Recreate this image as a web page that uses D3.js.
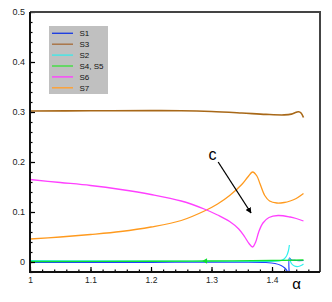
<!DOCTYPE html>
<html>
<head>
<meta charset="utf-8">
<script src="https://cdn.jsdelivr.net/npm/d3@7.9.0/dist/d3.min.js"></script>
<style>
  body { margin: 0; background: #fff; }
  svg { display: block; font-family: "Liberation Sans", Arial, sans-serif; }
</style>
</head>
<body>
<svg id="chart" width="332" height="302"></svg>
<script>
// series values: [alpha, value]; null splits a curve at a jump
const s1 = [[1.0, -0.001], [1.2, -0.0006], [1.35, -0.0002], [1.39, -0.001], [1.405, -0.003], [1.415, -0.007],
  [1.421, -0.012], [1.425, -0.018], [1.4285, -0.03], null,
  [1.4288, -0.03], [1.4288, 0.008], [1.432, 0.004], [1.44, 0.003], [1.452, 0.003]];
const s3 = [[1.0, 0.302], [1.1, 0.3025], [1.2, 0.3027], [1.25, 0.3025], [1.3, 0.301], [1.35, 0.298],
  [1.39, 0.2952], [1.42, 0.2942], [1.432, 0.2958], [1.44, 0.2995], [1.444, 0.3006], [1.448, 0.298], [1.452, 0.289]];
const s2 = [[1.0, 0.003], [1.1, 0.0022], [1.3, 0.0015], [1.38, 0.001], [1.405, 0.0015], [1.415, 0.003],
  [1.42, 0.006], [1.424, 0.012], [1.427, 0.022], [1.4287, 0.034], null,
  [1.4292, 0.008], [1.432, -0.003], [1.437, -0.008], [1.443, -0.009], [1.448, -0.007], [1.452, -0.004]];
const s45 = [[1.0, 0.001], [1.2, 0.0015], [1.3, 0.002], [1.4, 0.003], [1.452, 0.004]];
const s6 = [[1.0, 0.165], [1.05, 0.159], [1.1, 0.153], [1.15, 0.145], [1.2, 0.135], [1.25, 0.122],
  [1.29, 0.105], [1.31, 0.094], [1.33, 0.081], [1.345, 0.066], [1.355, 0.05], [1.362, 0.037],
  [1.368, 0.03], [1.373, 0.04], [1.378, 0.06], [1.385, 0.078], [1.395, 0.089], [1.41, 0.093],
  [1.43, 0.09], [1.44, 0.087], [1.452, 0.082]];
const s7 = [[1.0, 0.046], [1.05, 0.05], [1.1, 0.055], [1.15, 0.061], [1.2, 0.07], [1.25, 0.083],
  [1.29, 0.103], [1.31, 0.116], [1.33, 0.133], [1.35, 0.155], [1.36, 0.17], [1.368, 0.18],
  [1.375, 0.172], [1.38, 0.157], [1.388, 0.133], [1.396, 0.122], [1.408, 0.118], [1.42, 0.119],
  [1.43, 0.122], [1.44, 0.127], [1.452, 0.137]];

const series = [
  { name: 'S3', data: s3, color: '#a86818', width: 1.6 },
  { name: 'S7', data: s7, color: '#ff9a1e', width: 1.3 },
  { name: 'S6', data: s6, color: '#ff40ff', width: 1.3 },
  { name: 'S1', data: s1, color: '#2040ff', width: 1.2 },
  { name: 'S2', data: s2, color: '#30f0f0', width: 1.2 },
  { name: 'S4, S5', data: s45, color: '#10e030', width: 1.4 },
];

const legendNames = ['S1', 'S3', 'S2', 'S4, S5', 'S6', 'S7'];
const legendColors = ['#2040e0', '#a87040', '#40e8e8', '#40e040', '#ff40ff', '#ffa030'];

const xTicks = [1, 1.1, 1.2, 1.3, 1.4];
const yTicks = [0, 0.1, 0.2, 0.3, 0.4, 0.5];
const xMinor = d3.range(1, 1.47, 0.02);
const yMinor = d3.range(-0.02, 0.501, 0.02);
const arrowMarkAlpha = 1.29; // little arrowhead on the green curve
const annot = { text: 'c', at: [1.3017, 0.204], from: [1.311, 0.2], to: [1.3653, 0.098] };

const width = 332, height = 302;
const margin = { top: 12, right: 12, bottom: 30, left: 30 };

const svg = d3.select('#chart');

const x = d3.scaleLinear().domain([1, 1.4793]).range([margin.left, width - margin.right]);
const y = d3.scaleLinear().domain([-0.02, 0.5]).range([height - margin.bottom, margin.top]);

svg.append('defs').append('clipPath').attr('id', 'clip')
  .append('rect')
  .attr('x', margin.left).attr('y', margin.top)
  .attr('width', width - margin.left - margin.right)
  .attr('height', height - margin.top - margin.bottom);

// curves
const line = d3.line()
  .defined(d => d !== null)
  .x(d => x(d[0]))
  .y(d => y(d[1]))
  .curve(d3.curveCatmullRom.alpha(0.5));

const plot = svg.append('g').attr('clip-path', 'url(#clip)');
plot.selectAll('path')
  .data(series)
  .join('path')
  .attr('d', d => line(d.data))
  .attr('fill', 'none')
  .attr('stroke', d => d.color)
  .attr('stroke-width', d => d.width);

// arrowhead on green curve
plot.append('path')
  .attr('d', d3.symbol(d3.symbolTriangle, 13)())
  .attr('transform', `translate(${x(arrowMarkAlpha)},${y(0.002)}) rotate(-90)`)
  .attr('fill', '#10e030');

// axes: ticks point inward
const xAxis = svg.append('g')
  .attr('transform', `translate(0,${height - margin.bottom})`)
  .call(d3.axisBottom(x).tickValues(xTicks).tickSize(-5).tickPadding(5).tickFormat(d3.format('~g')));
const xAxisMinor = svg.append('g')
  .attr('transform', `translate(0,${height - margin.bottom})`)
  .call(d3.axisBottom(x).tickValues(xMinor).tickSize(-2.5).tickFormat(''));
const yAxis = svg.append('g')
  .attr('transform', `translate(${margin.left},0)`)
  .call(d3.axisLeft(y).tickValues(yTicks).tickSize(-5).tickPadding(5).tickFormat(d3.format('~g')));
const yAxisMinor = svg.append('g')
  .attr('transform', `translate(${margin.left},0)`)
  .call(d3.axisLeft(y).tickValues(yMinor).tickSize(-2.5).tickFormat(''));

[xAxis, xAxisMinor, yAxis, yAxisMinor].forEach(g => {
  g.select('.domain').remove();
  g.selectAll('line').attr('stroke', '#000').attr('stroke-width', 1.2);
});
xAxis.selectAll('text').attr('font-size', 8.5).attr('fill', '#222');
yAxis.selectAll('text').attr('font-size', 9).attr('fill', '#222');

// frame
const x0 = x.range()[0], x1 = x.range()[1], y0 = y.range()[0], y1 = y.range()[1];
svg.append('path')
  .attr('d', `M${x0},${y1}H${x1}V${y0}`)
  .attr('fill', 'none').attr('stroke', '#444').attr('stroke-width', 2);
svg.append('path')
  .attr('d', `M${x0},${y1}V${y0}H${x1}`)
  .attr('fill', 'none').attr('stroke', '#111').attr('stroke-width', 2);

// axis title
svg.append('text')
  .attr('x', 296.5).attr('y', 289)
  .attr('text-anchor', 'middle')
  .attr('font-size', 15)
  .text('α');

// legend
const legend = svg.append('g');
legend.append('rect')
  .attr('x', 49).attr('y', 26).attr('width', 59).attr('height', 68)
  .attr('fill', '#c0c0c0');
const rows = legend.selectAll('g.row')
  .data(legendNames)
  .join('g')
  .attr('class', 'row')
  .attr('transform', (d, i) => `translate(0,${33.3 + i * 10.9})`);
rows.append('line')
  .attr('x1', 52).attr('x2', 73)
  .attr('stroke', (d, i) => legendColors[i])
  .attr('stroke-width', 1.4);
rows.append('text')
  .attr('x', 79.5).attr('y', 3)
  .attr('font-size', 8)
  .attr('fill', '#111')
  .text(d => d);

// annotation "c" with arrow
svg.append('defs').append('marker')
  .attr('id', 'arrow')
  .attr('viewBox', '0 0 10 10')
  .attr('refX', 9).attr('refY', 5)
  .attr('markerWidth', 6).attr('markerHeight', 6)
  .attr('markerUnits', 'userSpaceOnUse')
  .attr('orient', 'auto')
  .append('path').attr('d', 'M0,0L10,5L0,10Z').attr('fill', '#000');
svg.append('line')
  .attr('x1', x(annot.from[0])).attr('y1', y(annot.from[1]))
  .attr('x2', x(annot.to[0])).attr('y2', y(annot.to[1]))
  .attr('stroke', '#000').attr('stroke-width', 1.3)
  .attr('marker-end', 'url(#arrow)');
svg.append('text')
  .attr('x', x(annot.at[0])).attr('y', y(annot.at[1]))
  .attr('text-anchor', 'middle')
  .attr('font-size', 16)
  .text(annot.text);
</script>
</body>
</html>
